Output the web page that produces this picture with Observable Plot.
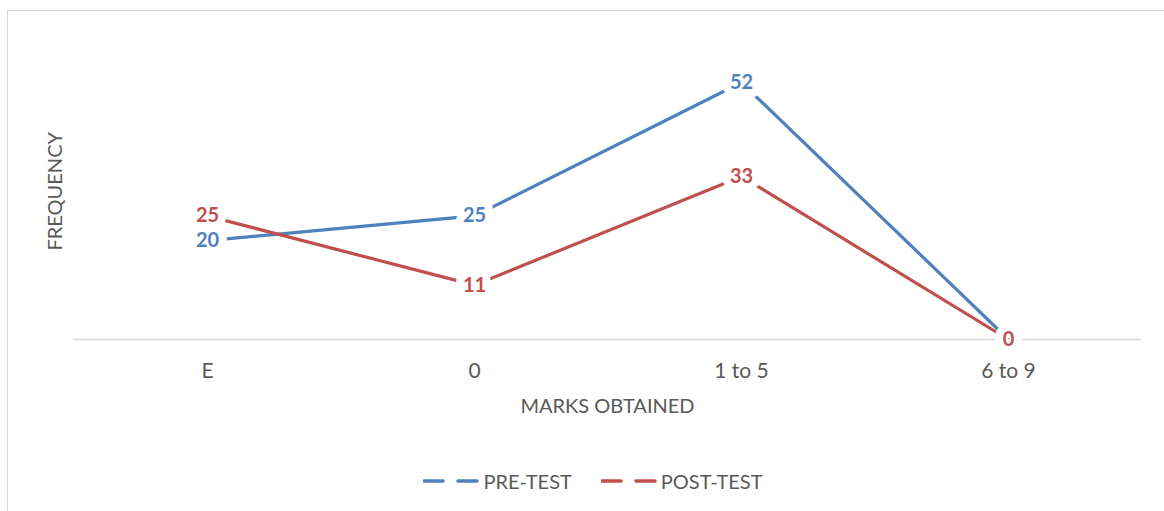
<!DOCTYPE html>
<html>
<head>
<meta charset="utf-8">
<script src="https://cdn.jsdelivr.net/npm/d3@7"></script>
<script src="https://cdn.jsdelivr.net/npm/@observablehq/plot@0.6"></script>
<style>
  html, body { margin: 0; padding: 0; background: #fff; }
  body { width: 1164px; height: 511px; overflow: hidden; position: relative; font-family: Lato, "Open Sans", sans-serif; }
  #frame { position: absolute; left: 7px; top: 10px; width: 1170px; height: 520px; border: 1.5px solid #d9d9d9; box-sizing: border-box; pointer-events: none; }
  #chart { position: absolute; left: 0; top: 0; }
  #legend { position: absolute; left: 0; top: 469px; width: 1164px; display: flex; justify-content: center; align-items: center; gap: 29px; font-size: 20px; color: #595959; padding-left: 22px; box-sizing: border-box; }
  .item { display: flex; align-items: center; gap: 4px; }
</style>
</head>
<body>
<div id="frame"></div>
<div id="chart"></div>
<div id="legend"></div>
<script>
const categories = ["E", "0", "1 to 5", "6 to 9"];
const preTest = [20, 25, 52, 0];
const postTest = [25, 11, 33, 0];
const seriesNames = ["PRE-TEST", "POST-TEST"];
const seriesColors = ["#4F81BD", "#C0504D"];

const data = [];
categories.forEach((c, i) => {
  data.push({cat: c, value: preTest[i], series: seriesNames[0]});
  data.push({cat: c, value: postTest[i], series: seriesNames[1]});
});

const colorScale = {domain: seriesNames, range: seriesColors};

const chart = Plot.plot({
  width: 1164,
  height: 440,
  marginLeft: 73,
  marginRight: 23,
  marginTop: 42.5,
  marginBottom: 101,
  style: {fontFamily: "Lato, 'Open Sans', sans-serif", background: "transparent"},
  x: {type: "point", domain: categories, padding: 0.5},
  y: {domain: [0, 60], axis: null},
  color: colorScale,
  marks: [
    Plot.ruleY([0], {stroke: "#d9d9d9", strokeWidth: 1.5}),
    Plot.axisX({tickSize: 0, tickPadding: 24, fontSize: 21, color: "#595959", label: null}),
    Plot.line(data, {x: "cat", y: "value", stroke: "series", strokeWidth: 3.2, z: "series"}),
    Plot.text(data, {x: "cat", y: "value", text: d => String(d.value), fill: "series",
      stroke: "white", strokeWidth: 16, paintOrder: "stroke", fontSize: 20, fontWeight: "bold"}),
    Plot.text(["MARKS OBTAINED"], {frameAnchor: "bottom", dy: 73, fontSize: 20, fill: "#595959", text: d => d}),
    Plot.text(["FREQUENCY"], {frameAnchor: "left", textAnchor: "middle", dx: -18, rotate: -90, fontSize: 20, fill: "#595959", text: d => d})
  ]
});
document.getElementById("chart").appendChild(chart);

const legend = document.getElementById("legend");
seriesNames.forEach((name, i) => {
  const item = document.createElement("div");
  item.className = "item";
  item.innerHTML = `<svg width="56" height="10"><line x1="1" y1="5" x2="55" y2="5" stroke="${seriesColors[i]}" stroke-width="3.5" stroke-linecap="round" stroke-dasharray="19 15"/></svg><span>${name}</span>`;
  legend.appendChild(item);
});
</script>
</body>
</html>
